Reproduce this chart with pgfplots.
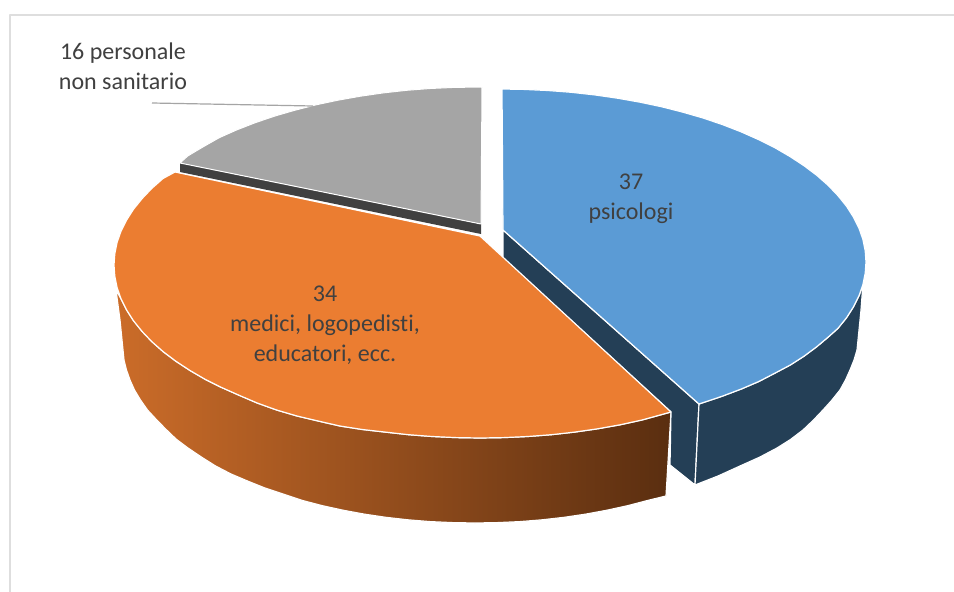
\documentclass[border=0pt]{standalone}
\usepackage{fontspec}
\setmainfont{Carlito}[Ligatures=NoCommon]
\usepackage{pgfplots}
\pgfplotsset{compat=1.18}
\definecolor{pblue}{HTML}{5B9BD5}
\definecolor{porange}{HTML}{EB7D31}
\definecolor{pgray}{HTML}{A5A5A5}
\definecolor{dblue}{HTML}{243F56}
\definecolor{dgray}{HTML}{404040}
\definecolor{sleft}{HTML}{CB6C29}
\definecolor{sright}{HTML}{5A2E10}
\definecolor{frame}{HTML}{DEDEDE}
\tikzset{lbl/.style={font=\fontsize{24}{30}\selectfont,text=dgray,align=center,inner sep=0pt}}
\begin{document}
\begin{tikzpicture}
\begin{axis}[
  width=954pt,height=592pt,scale only axis,
  xmin=0,xmax=954,ymin=0,ymax=592,y dir=reverse,
  hide axis,clip=true,
  every axis plot/.append style={line join=round,mark=none},
]
% background and chart frame
\addplot[fill=white,draw=none] coordinates {(0,0)(954,0)(954,592)(0,592)} -- cycle;
\addplot[frame,line width=2pt] coordinates {(10,592)(10,15)(954,15)};
% orange outer side
\addplot[draw=white,line width=1.2pt,left color=sleft,right color=sright,middle color=sleft!50!sright] coordinates {
 (116,290)(121,298.8)(126.5,309.8)(133.4,320.6)(141.9,331.2)(151.7,341.5)(163,351.5)(175.7,361.1)(189.7,370.3)(204.8,379.1)(221.2,387.3)(238.7,395.1)(257.2,403)(276.6,410)(297,416)(318.1,421)(339.9,426)(362.4,429.5)(385.3,432.1)(408.6,434.7)(432.2,436.5)(456.1,437.6)(480,438)(503.9,437.6)(527.8,436.5)(551.4,434.7)(574.7,432.1)(597.6,428.8)(620.1,424.8)(642,420)(671,412)
 (666,496)(647.5,500.5)(627.6,505.7)(607,510.2)(585.9,514.1)(564.3,517.3)(542.3,519.8)(520,521.6)(497.6,522.6)(475,523)(452.4,522.6)(430,521.6)(407.7,519.8)(385.7,517.3)(364.1,514.1)(343,510.2)(322.4,505.7)(302.5,500.5)(265,488)(247.5,481)(231,474)(215.6,466)(201.3,457)(188,448)(176,439)(165.6,429)(156.3,419.5)(147.5,410)(140.5,400)(134.5,390)(130,380)(126.5,370)(124,360)(122,340)(120,320)(118,305)
} -- cycle;
% blue inner cut face
\addplot[draw=white,line width=1.2pt,fill=dblue] coordinates {(503,230)(699,404)(695,485)(670,465)(671,412)(503,258)} -- cycle;
% blue outer side
\addplot[draw=white,line width=1.2pt,fill=dblue] coordinates {
 (699,404)(711,400)(722.8,396)(741.3,389)(758.8,381.5)(775.2,373)(790.3,365)(804.3,356)(817,346.5)(828.3,337)(838.1,328.2)(846.6,317.6)(853.5,306.8)(859,295.8)(862.9,284.6)
 (861,310)(859,330)(857,350)(854,360)(850,370)(845.5,380)(840,390)(832,400)(823,410)(813.5,420)(803,430)(790.5,439.5)(777,448)(760,457)(740,466)(718,476)(695,485)
} -- cycle;
% orange top face
\addplot[draw=white,line width=1.2pt,fill=porange] coordinates {
 (175,172)(163,178.5)(151.7,188.5)(141.9,198.8)(133.4,209.4)(126.5,220.2)(121,231.2)(117.1,242.4)(114.8,253.7)(114,265)(114.8,276.3)(117.1,287.6)(121,298.8)(126.5,309.8)(133.4,320.6)(141.9,331.2)(151.7,341.5)(163,351.5)(175.7,361.1)(189.7,370.3)(204.8,379.1)(221.2,387.3)(238.7,395.1)(257.2,403)(276.6,410)(297,416)(318.1,421)(339.9,426)(362.4,429.5)(385.3,432.1)(408.6,434.7)(432.2,436.5)(456.1,437.6)(480,438)(503.9,437.6)(527.8,436.5)(551.4,434.7)(574.7,432.1)(597.6,428.8)(620.1,424.8)(642,420)(671,412)(480,236)
} -- cycle;
% gray side
\addplot[draw=none,fill=dgray] coordinates {(180,163)(481,224)(481,234)(180,172)} -- cycle;
% gray top face
\addplot[draw=white,line width=1pt,fill=pgray] coordinates {
 (180,163)(187.7,156)(202.8,147)(219.2,137.7)(236.7,129.9)(255.2,122.7)(274.6,116.1)(295,110.2)(316.1,104.8)(337.9,100.2)(360.4,96.2)(383.3,92.9)(406.6,90.3)(430.2,88.5)(454.1,87.4)(482,87)(481,224)
} -- cycle;
% blue top face
\addplot[draw=white,line width=1.2pt,fill=pblue] coordinates {
 (502,89)(523.9,89.4)(547.8,90.5)(571.4,92.3)(594.7,94.9)(617.6,98.2)(640.1,102.2)(661.9,106.8)(683,112.2)(703.4,118.1)(722.8,124.7)(741.3,131.9)(758.8,139.7)(775.2,147.9)(790.3,156.7)(804.3,165.9)(817,175.5)(828.3,185.5)(838.1,195.8)(846.6,206.4)(853.5,217.2)(859,228.2)(862.9,239.4)(865.2,250.7)(866,262)(865.2,273.3)(862.9,284.6)(859,295.8)(853.5,306.8)(846.6,317.6)(838.1,328.2)(828.3,337)(817,346.5)(804.3,356)(790.3,365)(775.2,373)(758.8,381.5)(741.3,389)(722.8,396)(711,400)(699,404)(503,230)
} -- cycle;
% leader line
\addplot[pgray,line width=1.2pt] coordinates {(152,103)(313,106)};
% labels
\node[lbl] at (axis cs:631,198.5) {37\\psicologi};
\node[lbl] at (axis cs:325,325) {34\\medici, logopedisti,\\educatori, ecc.};
\node[lbl] at (axis cs:123,66.5) {16 personale\\non sanitario};
\end{axis}
\end{tikzpicture}
\end{document}
